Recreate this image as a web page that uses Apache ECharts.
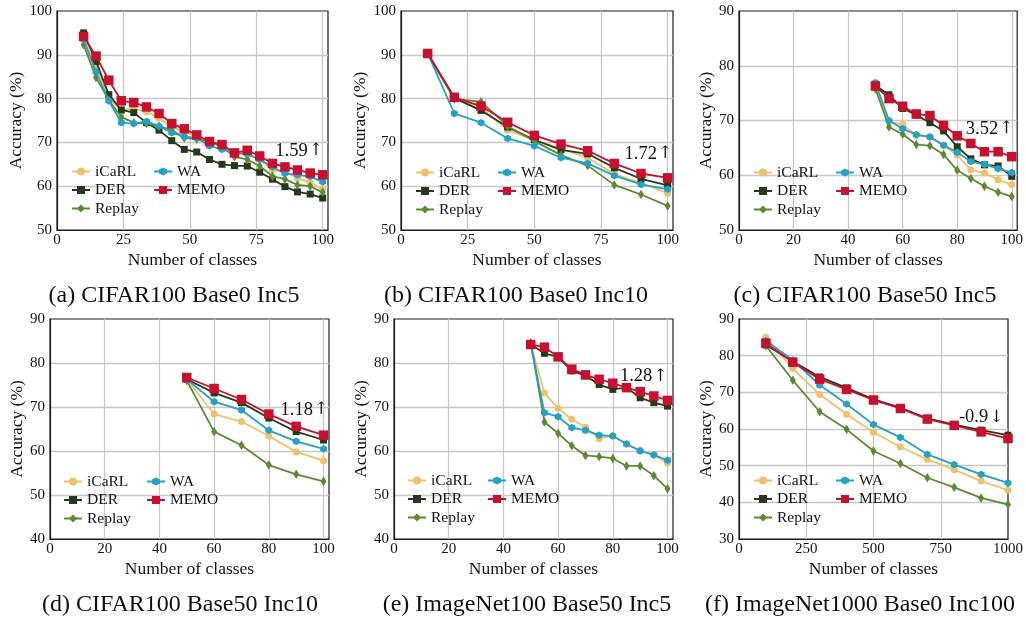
<!DOCTYPE html>
<html>
<head>
<meta charset="utf-8">
<script src="https://cdn.jsdelivr.net/npm/echarts@6/dist/echarts.min.js"></script>
<style>
  html, body { margin: 0; padding: 0; background: #fff; }
  #chart { width: 1026px; height: 618px; }
</style>
</head>
<body>
<div id="chart"></div>
<script>
// ---- data ----
const methods = ['iCaRL', 'DER', 'Replay', 'WA', 'MEMO'];

// (a) CIFAR100 Base0 Inc5
const xA = [10, 14.7, 19.5, 24.2, 28.9, 33.7, 38.4, 43.2, 47.9, 52.6, 57.4, 62.1, 66.8, 71.6, 76.3, 81.1, 85.8, 90.5, 95.3, 100];
const aICaRL  = [93.8, 87.2, 80.0, 77.4, 77.7, 77.0, 75.5, 73.6, 72.4, 71.3, 70.1, 69.0, 67.9, 67.5, 66.1, 63.7, 63.3, 61.9, 60.8, 59.4];
const aDER    = [95.0, 88.5, 80.9, 77.4, 76.8, 74.5, 72.8, 70.4, 68.4, 67.8, 66.1, 65.0, 64.7, 64.6, 63.2, 61.6, 59.9, 58.7, 58.2, 57.3];
const aReplay = [92.3, 84.8, 79.6, 75.8, 74.5, 74.3, 73.7, 72.8, 71.0, 70.8, 70.1, 69.0, 66.7, 66.1, 64.6, 62.3, 61.6, 60.3, 60.0, 58.6];
const aWA     = [93.5, 86.1, 79.5, 74.5, 74.3, 74.8, 73.7, 72.2, 71.3, 71.0, 69.2, 68.4, 67.6, 67.3, 66.1, 64.4, 62.9, 62.6, 62.2, 61.0];
const aMEMO   = [94.2, 89.7, 84.2, 79.5, 79.1, 78.1, 76.6, 74.3, 73.1, 71.7, 70.2, 69.5, 67.6, 68.2, 66.9, 65.2, 64.4, 63.7, 63.0, 62.6];

// (b) CIFAR100 Base0 Inc10
const xB = [10, 20, 30, 40, 50, 60, 70, 80, 90, 100];
const bICaRL  = [90.3, 80.0, 78.0, 72.8, 70.5, 68.6, 66.5, 62.8, 60.7, 58.4];
const bDER    = [90.3, 80.1, 77.3, 73.5, 70.6, 68.3, 67.4, 64.2, 61.7, 60.2];
const bReplay = [90.3, 79.9, 79.3, 73.7, 70.3, 67.1, 64.7, 60.3, 58.1, 55.5];
const bWA     = [90.3, 76.6, 74.5, 70.9, 69.2, 66.5, 65.2, 62.4, 60.4, 59.3];
const bMEMO   = [90.3, 80.3, 78.3, 74.6, 71.6, 69.6, 68.1, 65.2, 62.9, 61.9];

// (c) CIFAR100 Base50 Inc5
const xC = [50, 55, 60, 65, 70, 75, 80, 85, 90, 95, 100];
const cICaRL  = [76.5, 69.8, 69.3, 67.3, 67.0, 65.4, 63.7, 61.0, 60.4, 59.2, 58.3];
const cDER    = [76.4, 74.7, 72.2, 71.0, 69.6, 68.1, 65.2, 63.0, 61.9, 61.7, 59.8];
const cReplay = [75.8, 68.8, 67.5, 65.6, 65.4, 63.8, 60.9, 59.4, 58.0, 56.9, 56.1];
const cWA     = [76.9, 70.0, 68.5, 67.4, 67.0, 65.5, 64.2, 62.5, 62.0, 61.2, 60.5];
const cMEMO   = [76.3, 74.0, 72.6, 71.2, 70.9, 69.1, 67.2, 65.8, 64.3, 64.3, 63.4];

// (d) CIFAR100 Base50 Inc10
const xD = [50, 60, 70, 80, 90, 100];
const dICaRL  = [76.3, 68.4, 66.7, 63.4, 59.8, 57.8];
const dDER    = [76.3, 73.2, 71.0, 67.5, 64.4, 62.5];
const dReplay = [76.0, 64.4, 61.3, 56.8, 54.7, 53.1];
const dWA     = [76.3, 71.2, 69.3, 64.7, 62.2, 60.5];
const dMEMO   = [76.7, 74.2, 71.7, 68.4, 65.6, 63.6];

// (e) ImageNet100 Base50 Inc5
const xE = [50, 55, 60, 65, 70, 75, 80, 85, 90, 95, 100];
const eICaRL  = [84.2, 73.2, 69.7, 67.2, 65.4, 62.8, 63.5, 61.6, 60.2, 59.1, 57.3];
const eDER    = [84.2, 82.2, 81.4, 78.2, 77.1, 75.1, 74.0, 74.4, 72.1, 71.0, 70.2];
const eReplay = [84.6, 66.6, 64.0, 61.2, 59.0, 58.7, 58.3, 56.6, 56.6, 54.4, 51.4];
const eWA     = [84.2, 68.7, 67.8, 65.3, 64.7, 63.6, 63.4, 61.6, 60.0, 59.1, 57.9];
const eMEMO   = [84.2, 83.6, 81.4, 78.6, 77.3, 76.3, 75.4, 74.4, 73.5, 72.5, 71.5];

// (f) ImageNet1000 Base0 Inc100
const xF = [100, 200, 300, 400, 500, 600, 700, 800, 900, 1000];
const fICaRL  = [85.0, 76.5, 69.4, 64.0, 59.1, 55.1, 51.7, 48.9, 45.8, 43.3];
const fDER    = [82.9, 78.5, 74.2, 71.2, 68.1, 65.8, 62.9, 61.2, 59.7, 58.3];
const fReplay = [82.7, 73.3, 64.7, 59.9, 54.0, 50.6, 46.7, 44.1, 41.2, 39.4];
const fWA     = [84.1, 78.8, 72.0, 66.8, 61.2, 57.7, 53.1, 50.3, 47.6, 45.3];
const fMEMO   = [83.4, 78.2, 73.6, 70.8, 67.9, 65.6, 62.7, 61.0, 59.2, 57.4];

const captions = ['(a) CIFAR100 Base0 Inc5', '(b) CIFAR100 Base0 Inc10', '(c) CIFAR100 Base50 Inc5',
                  '(d) CIFAR100 Base50 Inc10', '(e) ImageNet100 Base50 Inc5', '(f) ImageNet1000 Base0 Inc100'];
// gain of MEMO over the strongest baseline, and its direction
const gainValue = ['1.59', '1.72', '3.52', '1.18', '1.28', '-0.9'];
const gainArrow = ['\u2191', '\u2191', '\u2191', '\u2191', '\u2191', '\u2193'];
const gainAt = [[100.3, 68.1], [101.9, 67.4], [100.8, 68.5], [101.9, 69.3], [100.2, 76.9], [985, 63.1]];

const xMax = [102, 102, 102, 102, 102, 1000];
const xStep = [25, 25, 20, 20, 20, 250];
const yMin = [50, 50, 50, 40, 40, 30];
const yMax = [100, 100, 90, 90, 90, 90];

const panels = [
  { x: xA, v: [aICaRL, aDER, aReplay, aWA, aMEMO] },
  { x: xB, v: [bICaRL, bDER, bReplay, bWA, bMEMO] },
  { x: xC, v: [cICaRL, cDER, cReplay, cWA, cMEMO] },
  { x: xD, v: [dICaRL, dDER, dReplay, dWA, dMEMO] },
  { x: xE, v: [eICaRL, eDER, eReplay, eWA, eMEMO] },
  { x: xF, v: [fICaRL, fDER, fReplay, fWA, fMEMO] }
];

// ---- layout & style ----
const FONT = '"Liberation Serif", "Times New Roman", Times, serif';
const INK = '#111';
const grids = [
  { left: 57,  top: 11,  width: 271, height: 219 },
  { left: 401, top: 11,  width: 272, height: 219 },
  { left: 739, top: 11,  width: 279, height: 219 },
  { left: 50,  top: 319, width: 279, height: 220 },
  { left: 394, top: 319, width: 279, height: 220 },
  { left: 739, top: 319, width: 270, height: 220 }
];
const yNameGap = [29, 29, 24, 23, 23, 24];
const legendPos = [
  [71, 163.5, 153], [415, 164.5, 497], [753, 164.5, 835],
  [63, 473.5, 146], [407, 472.5, 487], [753, 472.5, 835]
];
const captionPos = [[174, 296], [516, 296], [865, 296], [180, 605], [527, 605], [860, 605]];

const HEX = 'path://M0,-1L0.866,-0.5L0.866,0.5L0,1L-0.866,0.5L-0.866,-0.5Z';
const look = {
  iCaRL:  { color: '#EEC16B', symbol: 'circle',  size: 7 },
  DER:    { color: '#27391B', symbol: 'rect',    size: 7 },
  Replay: { color: '#5B8A33', symbol: 'diamond', size: [6, 9.5] },
  WA:     { color: '#25A1C6', symbol: HEX,       size: [7, 7.5] },
  MEMO:   { color: '#C70F2E', symbol: 'rect',    size: 9.5 }
};

const gridOpts = grids.map(g => Object.assign({
  show: true, borderColor: '#1c1c1c', borderWidth: 1.2, backgroundColor: 'transparent', containLabel: false
}, g));

const xAxes = grids.map((g, i) => ({
  type: 'value', gridIndex: i, min: 0, max: xMax[i], interval: xStep[i],
  name: 'Number of classes', nameLocation: 'middle', nameGap: 21,
  nameTextStyle: { fontFamily: FONT, fontSize: 17.5, color: INK },
  axisLine: { show: true, onZero: false, lineStyle: { color: '#1c1c1c', width: 1.2 } },
  axisTick: { show: false },
  axisLabel: {
    margin: 3, fontFamily: FONT, fontSize: 15, color: INK,
    formatter: v => (Math.abs(v / xStep[i] - Math.round(v / xStep[i])) < 1e-9 ? String(v) : '')
  },
  splitLine: { show: true, showMinLine: false, showMaxLine: false, lineStyle: { color: '#c8c8c8', width: 1.3 } }
}));

const yAxes = grids.map((g, i) => ({
  type: 'value', gridIndex: i, min: yMin[i], max: yMax[i], interval: 10,
  name: 'Accuracy (%)', nameLocation: 'middle', nameGap: yNameGap[i], nameRotate: 90,
  nameTextStyle: { fontFamily: FONT, fontSize: 17.5, color: INK },
  axisLine: { show: true, lineStyle: { color: '#1c1c1c', width: 1.2 } },
  axisTick: { show: false },
  axisLabel: { margin: 5, fontFamily: FONT, fontSize: 15, color: INK },
  splitLine: { show: true, showMinLine: false, showMaxLine: false, lineStyle: { color: '#c8c8c8', width: 1.3 } }
}));

const series = [];
panels.forEach((p, i) => {
  methods.forEach((m, k) => {
    const s = {
      type: 'line', name: m, xAxisIndex: i, yAxisIndex: i,
      data: p.x.map((x, j) => [x, p.v[k][j]]),
      symbol: look[m].symbol, symbolSize: look[m].size, showSymbol: true,
      lineStyle: { color: look[m].color, width: 1.8 },
      itemStyle: { color: look[m].color, borderWidth: 0 },
      z: 2 + k, clip: true, silent: true, animation: false
    };
    if (m === 'MEMO') {
      s.markPoint = {
        silent: true, animation: false,
        symbol: 'rect', symbolSize: 1, itemStyle: { color: 'rgba(0,0,0,0)' },
        label: {
          show: true, position: 'left', distance: 0,
          formatter: () => '{n|' + gainValue[i] + '}{a|' + gainArrow[i] + '}',
          rich: {
            n: { fontFamily: FONT, fontSize: 18.5, color: INK },
            a: { fontFamily: '"DejaVu Serif", serif', fontSize: 17, color: INK, padding: [0, 0, 1, 1] }
          }
        },
        data: [{ coord: gainAt[i] }]
      };
    }
    series.push(s);
  });
});

const legends = [];
legendPos.forEach(([l1, t, l2]) => {
  const base = {
    orient: 'vertical', top: t, padding: 0, itemWidth: 18, itemHeight: 10, itemGap: 2.5,
    selectedMode: false,
    textStyle: { fontFamily: FONT, fontSize: 15.5, color: INK, lineHeight: 15 }
  };
  legends.push(Object.assign({ left: l1, data: ['iCaRL', 'DER', 'Replay'] }, base));
  legends.push(Object.assign({ left: l2, data: ['WA', 'MEMO'] }, base));
});

const graphics = captions.map((c, i) => ({
  type: 'text', x: captionPos[i][0], y: captionPos[i][1], silent: true,
  style: { text: c, font: '24px ' + FONT, fill: INK, textAlign: 'center', textVerticalAlign: 'middle' }
}));

const chart = echarts.init(document.getElementById('chart'), null, { renderer: 'canvas' });
chart.setOption({
  backgroundColor: '#ffffff',
  animation: false,
  textStyle: { fontFamily: FONT },
  grid: gridOpts,
  xAxis: xAxes,
  yAxis: yAxes,
  legend: legends,
  series: series,
  graphic: graphics
});
</script>
</body>
</html>
